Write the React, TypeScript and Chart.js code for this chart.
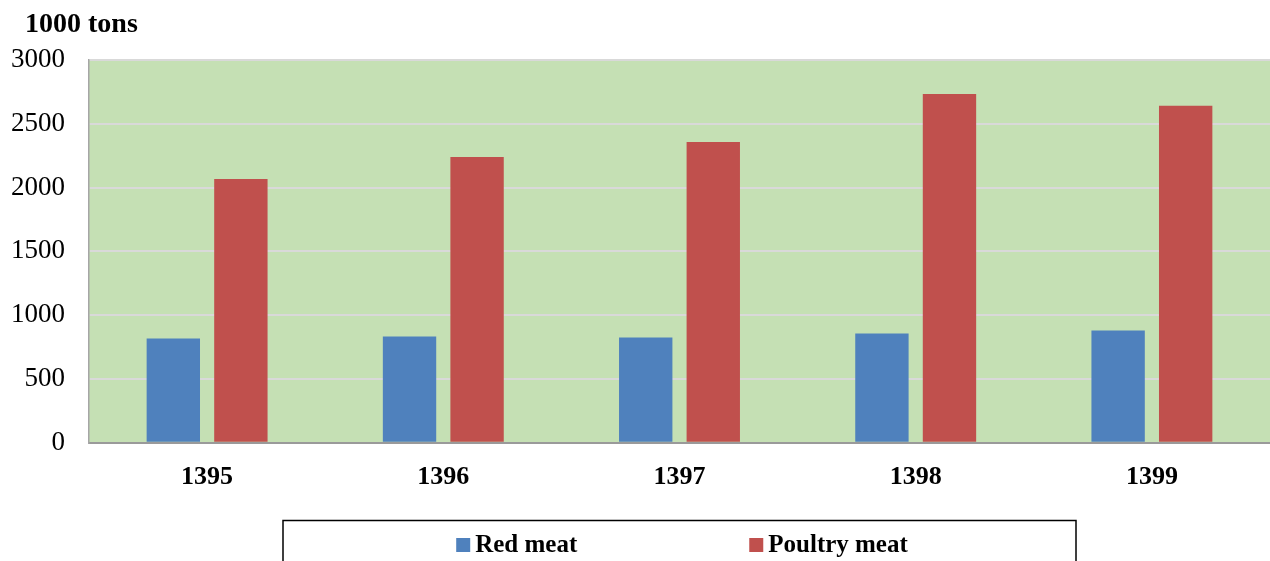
import React, { useEffect, useRef } from "react";
import { Chart, registerables } from "chart.js";

Chart.register(...registerables);

const years = ["1395", "1396", "1397", "1398", "1399"];
const redMeat = [817, 833, 825, 856, 880];
const poultryMeat = [2068, 2239, 2357, 2734, 2642];
const yTicks = [0, 500, 1000, 1500, 2000, 2500, 3000];
const unitLabel = "1000 tons";
const seriesNames = ["Red meat", "Poultry meat"];
const seriesColors = ["#4f81bd", "#c0504d"];

const FONT = "'Liberation Serif', 'Times New Roman', serif";

const plotBg = {
  id: "plotBg",
  beforeDraw(chart: any) {
    const { ctx, chartArea } = chart;
    ctx.save();
    ctx.fillStyle = "#c5e0b4";
    ctx.fillRect(chartArea.left, chartArea.top, chartArea.right - chartArea.left, chartArea.bottom - chartArea.top);
    ctx.restore();
  },
};

const decor = {
  id: "decor",
  afterDraw(chart: any) {
    const { ctx } = chart;
    ctx.save();
    ctx.fillStyle = "#000";
    ctx.font = `bold 28px ${FONT}`;
    ctx.textBaseline = "alphabetic";
    ctx.textAlign = "left";
    ctx.fillText(unitLabel, 25, 32);

    ctx.strokeStyle = "#000";
    ctx.lineWidth = 1.5;
    ctx.strokeRect(283, 520.5, 793, 60);

    ctx.font = `bold 25px ${FONT}`;
    const ds = chart.data.datasets;
    const sq = 14;
    const textGap = 5;
    const itemGap = 172;
    const widths = ds.map((d: any) => ctx.measureText(d.label).width);
    const total = widths.reduce((a: number, w: number) => a + sq + textGap + w, 0) + itemGap * (ds.length - 1);
    let x = 682 - total / 2;
    ds.forEach((d: any, i: number) => {
      ctx.fillStyle = d.backgroundColor;
      ctx.fillRect(x, 538, sq, sq);
      x += sq + textGap;
      ctx.fillStyle = "#000";
      ctx.fillText(d.label, x, 552);
      x += widths[i] + itemGap;
    });
    ctx.restore();
  },
};

export default function App() {
  const ref = useRef<HTMLCanvasElement>(null);
  useEffect(() => {
    document.body.style.margin = "0";
    const chart = new Chart(ref.current as HTMLCanvasElement, {
      type: "bar",
      data: {
        labels: years,
        datasets: [
          { label: seriesNames[0], data: redMeat, backgroundColor: seriesColors[0] },
          { label: seriesNames[1], data: poultryMeat, backgroundColor: seriesColors[1] },
        ],
      },
      options: {
        animation: false,
        responsive: false,
        layout: { padding: { top: 60, bottom: 49, left: 0, right: 0 } },
        datasets: { bar: { categoryPercentage: 0.572, barPercentage: 0.79 } },
        plugins: { legend: { display: false }, tooltip: { enabled: false }, title: { display: false } },
        scales: {
          x: {
            grid: { display: false, drawTicks: false },
            border: { display: true, color: "#9a9a9a", width: 2 },
            ticks: { color: "#000", padding: 19, font: { family: FONT, size: 26, weight: "bold" } },
          },
          y: {
            min: 0,
            max: 3000,
            afterFit(scale: any) {
              scale.width = 89;
            },
            afterBuildTicks(scale: any) {
              scale.ticks = yTicks.map((v) => ({ value: v }));
            },
            grid: { color: "#d9d9d9", lineWidth: 2, drawTicks: false },
            border: { display: true, color: "#a6a6a6", width: 1.5 },
            ticks: {
              color: "#000",
              padding: 24,
              font: { family: FONT, size: 27 },
              callback: (v: any) => String(v),
            },
          },
        },
      },
      plugins: [plotBg, decor],
    });
    return () => chart.destroy();
  }, []);
  return (
    <div style={{ width: 1270, height: 561, position: "relative" }}>
      <canvas ref={ref} width={1270} height={561} />
    </div>
  );
}
